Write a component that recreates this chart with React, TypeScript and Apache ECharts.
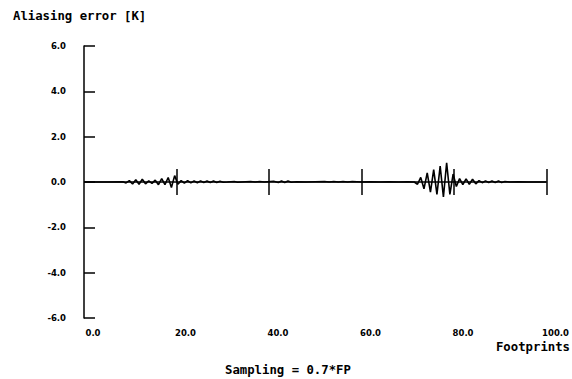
import React, { useEffect, useRef } from "react";
import * as echarts from "echarts";

const yTicks = [-6, -4, -2, 0, 2, 4, 6];
const xTicks = [0, 20, 40, 60, 80, 100];
const crossTicks = [20, 40, 60, 80, 100];

const footprints = [
  0, 5, 8.4, 9.1, 9.8, 10.5, 11.2, 11.9, 12.6, 13.3, 14.0, 14.7, 15.4, 16.1, 16.8, 17.5, 18.2, 18.9, 19.6,
  20.3, 21.0, 21.7, 22.4, 23.1, 23.8, 24.5, 25.2, 25.9, 26.6, 27.3, 28.0, 28.7, 29.4, 30.1, 31, 32.5, 33.2,
  34, 36, 37, 38, 39, 41, 42.0, 42.7, 43.4, 44.1, 44.8, 46, 48, 50, 52, 53, 54, 55, 56, 57, 58, 60, 62, 64,
  66, 68, 70, 71.4, 72.1, 72.8, 73.5, 74.2, 74.9, 75.6, 76.3, 77.0, 77.7, 78.4, 79.1, 79.8, 80.5, 81.2,
  81.9, 82.6, 83.3, 84.0, 84.7, 85.4, 86.1, 86.8, 87.5, 88.2, 88.9, 89.6, 90.3, 91, 92, 94, 96, 100,
];
const errors = [
  0, 0, 0.01, -0.04, 0.06, -0.09, 0.1, -0.1, 0.12, -0.08, 0.05, -0.06, 0.08, -0.12, 0.15, -0.12, 0.2, -0.24, 0.28,
  -0.1, 0.06, -0.05, 0.06, -0.04, 0.05, -0.03, 0.05, -0.02, 0.04, -0.02, 0.04, -0.02, 0.03, -0.01, 0, 0.02, -0.01,
  0, 0.02, 0, 0.02, 0, 0.03, -0.02, 0.04, -0.02, 0.04, -0.01, 0.01, 0, 0.01, 0.02, 0, 0.02, 0, 0.02, 0, 0.02, 0, 0.01, 0,
  0.01, 0, 0.01, 0, -0.1, 0.2, -0.3, 0.4, -0.45, 0.55, -0.55, 0.7, -0.66, 0.85, -0.55, 0.35, -0.2, 0.15,
  -0.12, 0.14, -0.1, 0.12, -0.08, 0.06, -0.03, 0.05, -0.02, 0.04, -0.02, 0.04, -0.02, 0.02, 0, 0.01, 0, 0,
];

const FONT = "DejaVu Sans";
const MONO = "DejaVu Sans Mono";

export default function App() {
  const ref = useRef<HTMLDivElement>(null);
  useEffect(() => {
    if (!ref.current) return;
    const chart = echarts.init(ref.current, null, { renderer: "svg" });
    const data = footprints.map((x, i) => [x, errors[i]]);
    const tickSegs = crossTicks.map((x) => [
      { coord: [x, -0.57] },
      { coord: [x, 0.57] },
    ]);
    chart.setOption({
      animation: false,
      backgroundColor: "#ffffff",
      grid: { left: 84, right: 20, top: 46, bottom: 61 },
      xAxis: {
        type: "value",
        min: xTicks[0],
        max: xTicks[xTicks.length - 1],
        interval: 20,
        axisLine: { show: false, onZero: false },
        axisTick: { show: false },
        splitLine: { show: false },
        axisLabel: {
          margin: 10,
          color: "#000",
          fontFamily: FONT,
          fontSize: 8.5,
          fontWeight: "bold",
          padding: [0, 0, 0, 18],
          formatter: (v: number) => v.toFixed(1),
        },
      },
      yAxis: {
        type: "value",
        min: yTicks[0],
        max: yTicks[yTicks.length - 1],
        interval: 2,
        axisLine: { show: true, lineStyle: { color: "#000", width: 1.5 } },
        axisTick: { show: true, inside: true, length: 11, lineStyle: { color: "#000", width: 1.5 } },
        splitLine: { show: false },
        axisLabel: {
          margin: 18,
          color: "#000",
          fontFamily: FONT,
          fontSize: 8.5,
          fontWeight: "bold",
          formatter: (v: number) => v.toFixed(1),
        },
      },
      series: [
        {
          type: "line",
          data,
          symbol: "none",
          lineStyle: { color: "#000", width: 1.6 },
          z: 3,
          markLine: {
            silent: true,
            symbol: "none",
            label: { show: false },
            lineStyle: { color: "#000", width: 1.5, type: "solid" },
            data: [{ yAxis: 0 }, ...tickSegs],
          },
        },
      ],
      graphic: [
        {
          type: "text",
          left: 13,
          top: 10,
          style: { text: "Aliasing error [K]", font: `bold 12.3px "${MONO}"`, fill: "#000" },
        },
        {
          type: "text",
          right: 2,
          top: 341,
          style: { text: "Footprints", font: `bold 12.3px "${MONO}"`, fill: "#000" },
        },
        {
          type: "text",
          left: 225,
          top: 364,
          style: { text: "Sampling = 0.7*FP", font: `bold 12.3px "${MONO}"`, fill: "#000" },
        },
      ],
    });
    return () => chart.dispose();
  }, []);
  return <div ref={ref} style={{ width: 572, height: 379, position: "absolute", left: 0, top: 0 }} />;
}
